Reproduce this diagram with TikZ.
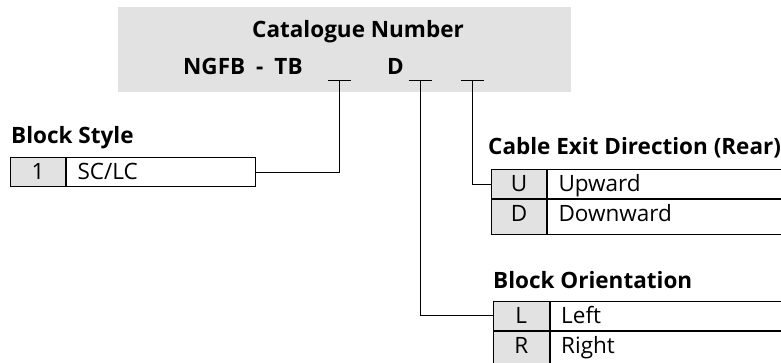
\documentclass[tikz,border=0pt]{standalone}
\usepackage{fontspec}
\setmainfont{Open Sans}

\definecolor{slotgray}{RGB}{225,226,225}
\newcommand{\rowfont}{\fontsize{22.5}{26}\selectfont}

\tikzset{
  headtext/.style={anchor=base west, inner sep=0pt, font=\rowfont\bfseries},
  keycell/.style={draw, line width=1pt, fill=slotgray, anchor=north west,
    inner xsep=0pt, inner ysep=7pt, text height=15pt, text depth=0pt,
    minimum width=55pt, font=\rowfont},
  valcell/.style={draw, line width=1pt, fill=white, anchor=north west,
    inner xsep=11pt, inner ysep=7pt, text height=15pt, text depth=0pt,
    align=left, font=\rowfont},
  conn/.style={line width=0.8pt}
}

\begin{document}
\begin{tikzpicture}[x=1pt, y=1pt, line join=miter]
\clip (0,0) rectangle (781,363);

% Catalogue number panel
\fill[slotgray] (118,270.5) rectangle (571,356);
\node[headtext] (cattitle) at (252,325) {Catalogue Number};
\node[headtext] (catcode) at (183,288) {NGFB\hspace{11pt}-\hspace{11pt}TB};
\node[headtext] (catD) at (387,288) {D};

% Blank slots of the number
\coordinate (slotA) at (339,283);
\coordinate (slotB) at (420,283);
\coordinate (slotC) at (472,283);
\foreach \s in {slotA,slotB,slotC}
  \draw[conn] ([xshift=-11.5pt]\s) -- ([xshift=11.5pt]\s);

% Block style
\node[headtext] (bstitle) at (11,219.7) {Block Style};
\node[keycell] (bskey) at (10,206) {1};
\node[valcell, text width=167pt] (bsval) at (bskey.north east) {SC/LC};

% Cable exit direction
\node[headtext] (cetitle) at (488,208) {Cable Exit Direction (Rear)};
\node[keycell] (ukey) at (491,193.7) {U};
\node[valcell, text width=212pt] (uval) at (ukey.north east) {Upward};
\node[keycell, text depth=5.4pt] (dkey) at (ukey.south west) {D};
\node[valcell, text width=212pt, text depth=5.4pt] (dval) at (dkey.north east) {Downward};

% Block orientation
\node[headtext] (botitle) at (493,74.7) {Block Orientation};
\node[keycell, minimum width=56pt] (lkey) at (492.7,62.3) {L};
\node[valcell, text width=209pt] (lval) at (lkey.north east) {Left};
\node[keycell, minimum width=56pt, text depth=5.4pt] (rkey) at (lkey.south west) {R};
\node[valcell, text width=209pt, text depth=5.4pt] (rval) at (rkey.north east) {Right};

% Connectors
\draw[conn] (slotA) |- (bsval.east);
\draw[conn] (slotC) |- (ukey.west);
\draw[conn] (slotB) |- (lkey.west);

\end{tikzpicture}
\end{document}
